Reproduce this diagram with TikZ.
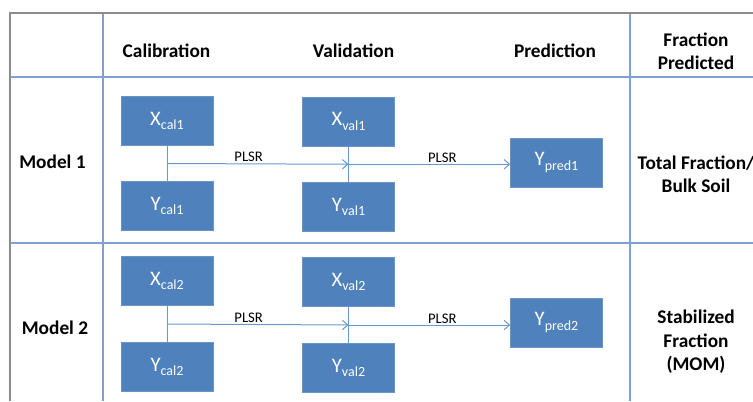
\documentclass[tikz,border=0pt]{standalone}
\usepackage{fontspec}
\setmainfont{Carlito}
\usetikzlibrary{arrows.meta, positioning, calc}
\definecolor{boxblue}{HTML}{4F81BD}
\definecolor{boxedge}{HTML}{6A93C6}
\definecolor{gridblue}{HTML}{7FA1D2}
\definecolor{linkblue}{HTML}{6F96CB}
\definecolor{framegray}{HTML}{8C8C8C}
\newcommand{\lowsub}[1]{\raisebox{-3.2pt}{\fontsize{10.5}{12}\selectfont #1}}

\begin{document}
\begin{tikzpicture}[
  x=0.75pt, y=-0.75pt,
  every node/.style={font=\fontsize{14.5}{17}\selectfont},
  head/.style={font=\fontsize{14.5}{17.5}\selectfont\bfseries, align=center},
  databox/.style={rectangle, draw=boxedge, fill=boxblue, text=white, minimum width=69pt, minimum height=36.75pt, inner sep=0pt, font=\fontsize{15.5}{17}\selectfont},
  tableline/.style={gridblue, line width=0.8pt},
  plsr/.style={-{Straight Barb[length=4pt, width=7pt]}, linkblue, line width=0.75pt},
  lbl/.style={font=\fontsize{11}{12}\selectfont, inner sep=1pt, text=black},
]
\useasboundingbox (0,0) rectangle (753,401);

% Table rules
\draw[tableline] (11,77) -- (753,77);
\draw[tableline] (11,243) -- (753,243);
\draw[tableline] (103,14) -- (103,401);
\draw[tableline] (630,14) -- (630,401);
\draw[framegray, line width=1.9pt] (10,401) -- (10,13) -- (753,13);

% Column and row headings
\node[head] (hcal) at (166.5,50.5) {Calibration};
\node[head] (hval) at (353.5,50.5) {Validation};
\node[head] (hpred) at (555,50.5) {Prediction};
\node[head] (hfrac) at (696,51.5) {Fraction\\Predicted};
\node[head] (m1) at (52.5,162) {Model 1};
\node[head] (m2) at (55,328) {Model 2};
\node[head] (f1) at (696,174.5) {Total Fraction/\\Bulk Soil};
\node[head] (f2) at (696,342) {Stabilized\\Fraction\\(MOM)};

% Model 1
\node[databox] (xcal1) at (167,121) {X\lowsub{cal1}};
\node[databox] (ycal1) at (167,206) {Y\lowsub{cal1}};
\node[databox] (xval1) at (348.5,121.5) {X\lowsub{val1}};
\node[databox] (yval1) at (348.5,207) {Y\lowsub{val1}};
\node[databox] (ypred1) at (556.5,162.5) {Y\lowsub{pred1}};

% Model 2
\node[databox] (xcal2) at (167,281) {X\lowsub{cal2}};
\node[databox] (ycal2) at (167,367) {Y\lowsub{cal2}};
\node[databox] (xval2) at (348.5,282) {X\lowsub{val2}};
\node[databox] (yval2) at (348.5,368) {Y\lowsub{val2}};
\node[databox] (ypred2) at (556.5,322.5) {Y\lowsub{pred2}};

% Links
\foreach \m in {1,2} {
  \draw[linkblue, line width=0.75pt] (xcal\m.south) -- (ycal\m.north);
  \draw[linkblue, line width=0.75pt] (xval\m.south) -- (yval\m.north);
  \coordinate (c\m) at ($(xcal\m.south)!0.5!(ycal\m.north)$);
  \coordinate (v\m) at ($(xval\m.south)!0.5!(yval\m.north)$);
  \draw[plsr] (c\m) -- (v\m) node[lbl, pos=0.45, above] (pa\m) {PLSR};
  \draw[plsr] (v\m) -- (v\m -| ypred\m.west) node[lbl, pos=0.58, above] (pb\m) {PLSR};
}

\end{tikzpicture}
\end{document}
